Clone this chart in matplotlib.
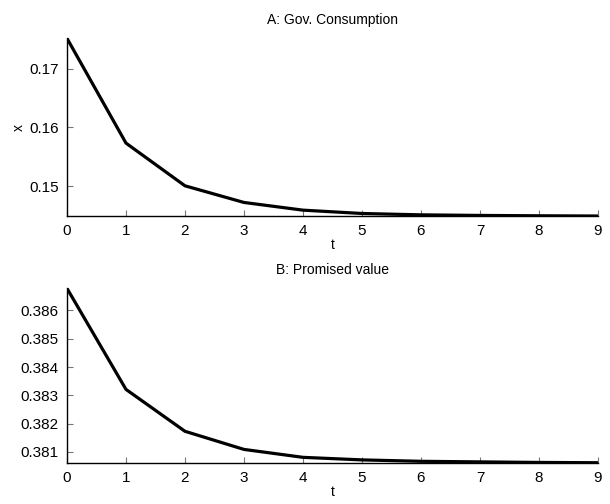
import numpy as np
import matplotlib
matplotlib.use("Agg")
import matplotlib.pyplot as plt

plt.rcParams['font.family'] = ['Liberation Sans', 'DejaVu Sans']

# values
t = [0, 1, 2, 3, 4, 5, 6, 7, 8, 9]
gov_cons = [0.1752, 0.15733, 0.15005, 0.14721, 0.14590, 0.14533,
            0.14510, 0.14500, 0.14494, 0.14490]
promised = [0.38678, 0.38321, 0.38173, 0.38109, 0.38081, 0.38072,
            0.38067, 0.38065, 0.38063, 0.38062]

fig = plt.figure(figsize=(6.1, 5.04), dpi=100)
ax1 = fig.add_axes([0.1098, 0.5714, 0.8705, 0.3526])
ax2 = fig.add_axes([0.1098, 0.0819, 0.8705, 0.3460])


def style(ax, y, title):
    ax.plot(t, y, color='black', lw=2.3, solid_joinstyle='round')
    ax.set_xlim(0, 9)
    ax.set_ylim(min(y), max(y))
    ax.set_xticks(t)
    ax.spines['top'].set_visible(False)
    ax.spines['right'].set_visible(False)
    for s in ('left', 'bottom'):
        ax.spines[s].set_linewidth(1.0)
    ax.tick_params(direction='in', length=4, color='#777777', labelsize=11,
                   pad=6)
    ax.set_xlabel('t', fontsize=10, labelpad=0)
    ax.set_title(title, fontsize=10, pad=10)


style(ax1, gov_cons, 'A: Gov. Consumption')
ax1.set_yticks([0.15, 0.16, 0.17])
ax1.set_ylabel('x', fontsize=10, labelpad=2)

style(ax2, promised, 'B: Promised value')
ax2.set_yticks([0.381, 0.382, 0.383, 0.384, 0.385, 0.386])

fig.savefig('out.png', dpi=100)
